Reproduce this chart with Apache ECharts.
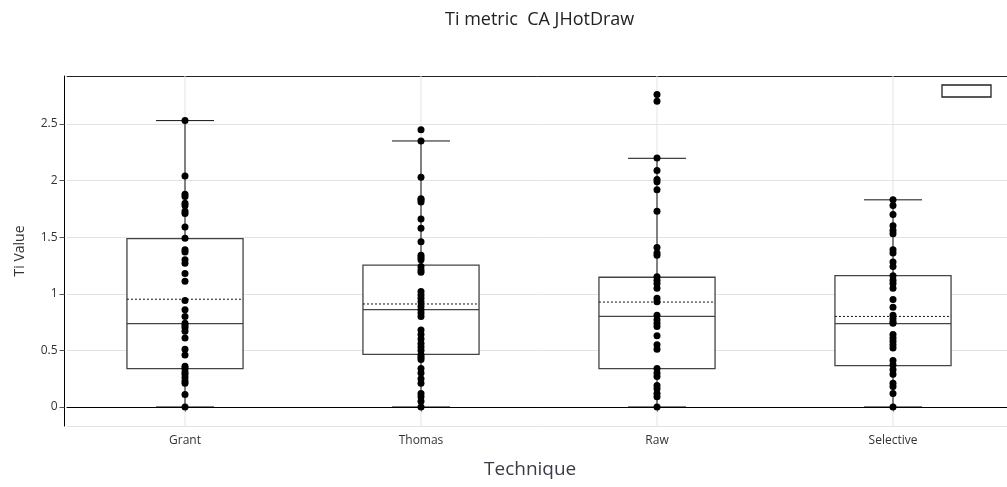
<!DOCTYPE html>
<html>
<head>
<meta charset="utf-8">
<title>Ti metric CA JHotDraw</title>
<script src="https://cdn.jsdelivr.net/npm/echarts@6/dist/echarts.min.js"></script>
<style>
  html, body { margin: 0; padding: 0; background: #fff; }
  #chart { width: 1007px; height: 487px; }
</style>
</head>
<body>
<div id="chart"></div>
<script>
// Techniques on the x axis
const categories = ['Grant', 'Thomas', 'Raw', 'Selective'];

// Box statistics per technique
const whiskerLow  = [0, 0, 0, 0];
const quartile1   = [0.339, 0.465, 0.339, 0.365];
const medians     = [0.737, 0.86, 0.80, 0.736];
const quartile3   = [1.487, 1.254, 1.146, 1.16];
const whiskerHigh = [2.53, 2.35, 2.197, 1.83];
const means       = [0.952, 0.91, 0.927, 0.80];

// Individual Ti values per technique
const grantValues = [2.53, 2.04, 1.88, 1.86, 1.80, 1.78, 1.73, 1.71, 1.59, 1.49, 1.39, 1.37,
  1.30, 1.27, 1.18, 1.11, 0.94, 0.86, 0.80, 0.74, 0.72, 0.70, 0.67, 0.61, 0.51, 0.46, 0.36,
  0.34, 0.31, 0.29, 0.26, 0.23, 0.21, 0.11, 0];
const thomasValues = [2.45, 2.35, 2.03, 1.84, 1.83, 1.81, 1.66, 1.58, 1.46, 1.34, 1.32, 1.30,
  1.24, 1.21, 1.19, 1.02, 0.99, 0.96, 0.93, 0.89, 0.86, 0.83, 0.80, 0.68, 0.64, 0.60, 0.56,
  0.53, 0.50, 0.46, 0.44, 0.42, 0.34, 0.30, 0.25, 0.21, 0.12, 0.09, 0.05, 0];
const rawValues = [2.76, 2.70, 2.20, 2.09, 2.01, 1.99, 1.92, 1.73, 1.41, 1.36, 1.34, 1.15,
  1.12, 1.09, 1.05, 0.96, 0.93, 0.81, 0.77, 0.74, 0.71, 0.63, 0.55, 0.51, 0.34, 0.30, 0.27,
  0.19, 0.16, 0.12, 0.09, 0];
const selectiveValues = [1.83, 1.78, 1.70, 1.60, 1.56, 1.53, 1.39, 1.36, 1.28, 1.24, 1.16,
  1.12, 1.09, 1.05, 0.95, 0.88, 0.81, 0.78, 0.75, 0.74, 0.64, 0.61, 0.58, 0.55, 0.52, 0.41,
  0.37, 0.33, 0.29, 0.21, 0.18, 0.12, 0];

const pointSets = [grantValues, thomasValues, rawValues, selectiveValues];

const FONT = '"Open Sans", "Noto Sans", sans-serif';

const boxRows = categories.map((c, i) =>
  [i, whiskerLow[i], quartile1[i], medians[i], quartile3[i], whiskerHigh[i], means[i]]);

const pointRows = [];
pointSets.forEach((vals, i) => vals.forEach(v => pointRows.push([i, v])));

// Box, whiskers with half-width caps, median and dotted mean line
function renderBox(params, api) {
  const i = api.value(0);
  const x = api.coord([i, 0])[0];
  const band = api.size([1, 0])[0];
  const half = band * 0.246;
  const capHalf = half / 2;
  const yLow = api.coord([i, api.value(1)])[1];
  const yQ1 = api.coord([i, api.value(2)])[1];
  const yMed = api.coord([i, api.value(3)])[1];
  const yQ3 = api.coord([i, api.value(4)])[1];
  const yHigh = api.coord([i, api.value(5)])[1];
  const yMean = api.coord([i, api.value(6)])[1];
  const dark = { stroke: '#111', lineWidth: 1 };
  return {
    type: 'group',
    children: [
      { type: 'line', shape: { x1: x, y1: yHigh, x2: x, y2: yQ3 }, style: dark },
      { type: 'line', shape: { x1: x, y1: yQ1, x2: x, y2: yLow }, style: dark },
      { type: 'line', shape: { x1: x - capHalf, y1: yHigh, x2: x + capHalf, y2: yHigh }, style: dark },
      { type: 'line', shape: { x1: x - capHalf, y1: yLow, x2: x + capHalf, y2: yLow }, style: dark },
      { type: 'rect', shape: { x: x - half, y: yQ3, width: half * 2, height: yQ1 - yQ3 },
        style: { fill: '#fff', stroke: '#444', lineWidth: 1.3 } },
      { type: 'line', shape: { x1: x - half, y1: yMed, x2: x + half, y2: yMed },
        style: { stroke: '#444', lineWidth: 1.3 } },
      { type: 'line', shape: { x1: x - half, y1: yMean, x2: x + half, y2: yMean },
        style: { stroke: '#111', lineWidth: 1, lineDash: [2, 2] } }
    ]
  };
}

// Vertical grid line through each category centre
function renderGridLine(params, api) {
  const x = api.coord([api.value(0), 0])[0];
  const cs = params.coordSys;
  return {
    type: 'line',
    shape: { x1: x, y1: cs.y, x2: x, y2: cs.y + cs.height },
    style: { stroke: '#e3e3e3', lineWidth: 1 }
  };
}

const chart = echarts.init(document.getElementById('chart'), null, { renderer: 'canvas' });

chart.setOption({
  backgroundColor: '#fff',
  animation: false,
  title: [
    {
      text: 'Ti metric  CA JHotDraw',
      left: 440, top: 6,
      textStyle: { fontFamily: FONT, fontSize: 18, fontWeight: 'normal', color: '#222' }
    },
    {
      text: 'Technique',
      left: 479, top: 455,
      textStyle: { fontFamily: FONT, fontSize: 19, fontWeight: 'normal', color: '#3b3b48' }
    }
  ],
  // plot area runs slightly past the right edge of the canvas
  grid: { left: 67, top: 76, width: 944, height: 350, containLabel: false, outerBoundsMode: 'none' },
  xAxis: [
    {
      type: 'category',
      data: categories,
      boundaryGap: true,
      axisLine: { show: true, lineStyle: { color: '#000', width: 1 } },
      axisTick: { show: true, alignWithLabel: true, length: 5, lineStyle: { color: '#444' } },
      axisLabel: { fontFamily: FONT, fontSize: 12, color: '#333', margin: 9 },
      splitLine: { show: false }
    },
    {
      type: 'category',
      data: categories,
      position: 'top',
      axisLine: { show: true, lineStyle: { color: '#222', width: 1 } },
      axisTick: { show: false },
      axisLabel: { show: false },
      splitLine: { show: false }
    }
  ],
  yAxis: {
    type: 'value',
    min: -0.168,
    max: 2.924,
    splitNumber: 6,
    offset: 2.5,
    name: 'Ti Value',
    nameLocation: 'middle',
    nameGap: 37,
    nameTextStyle: { fontFamily: FONT, fontSize: 14, color: '#333' },
    axisLine: { show: true, lineStyle: { color: '#000', width: 1 } },
    axisTick: { show: true, length: 5, lineStyle: { color: '#555' } },
    axisLabel: {
      fontFamily: FONT, fontSize: 12, color: '#333', margin: 7,
      showMinLabel: false, showMaxLabel: false
    },
    splitLine: { show: true, lineStyle: { color: '#e3e3e3', width: 1 } }
  },
  series: [
    {
      type: 'custom',
      name: 'gridlines',
      silent: true,
      z: 1,
      renderItem: renderGridLine,
      data: categories.map((c, i) => [i]),
      encode: { x: 0 },
      markLine: {
        silent: true,
        symbol: ['none', 'none'],
        label: { show: false },
        lineStyle: { color: '#000', width: 1, type: 'solid' },
        data: [{ yAxis: 0 }]
      }
    },
    {
      type: 'custom',
      name: 'boxes',
      z: 2,
      renderItem: renderBox,
      data: boxRows,
      encode: { x: 0, y: [1, 2, 3, 4, 5, 6] }
    },
    {
      type: 'scatter',
      name: 'values',
      z: 3,
      symbol: 'circle',
      symbolSize: 7,
      itemStyle: { color: '#000', opacity: 1 },
      data: pointRows
    }
  ],
  graphic: [
    {
      type: 'rect',
      shape: { x: 942, y: 85, width: 49, height: 12 },
      style: { fill: '#fff', stroke: '#222', lineWidth: 1.3 }
    }
  ]
});
</script>
</body>
</html>
